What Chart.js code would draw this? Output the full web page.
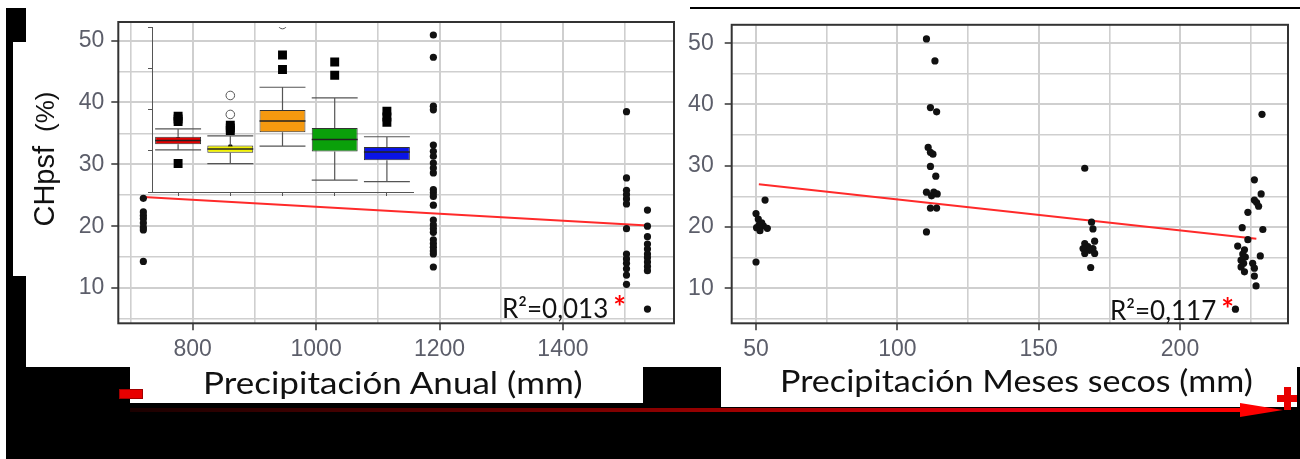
<!DOCTYPE html>
<html>
<head>
<meta charset="utf-8">
<script src="https://cdn.jsdelivr.net/npm/chart.js@4.4.1/dist/chart.umd.min.js"></script>
<style>
body { margin: 0; background: #fff; }
#wrap { position: relative; width: 1300px; height: 459px; overflow: hidden; background: #fff; }
.blk { position: absolute; background: #000; }
.wht { position: absolute; background: #fff; }
canvas { position: absolute; }
.txt { position: absolute; white-space: nowrap; line-height: 1; color: #111; font-family: Lato, sans-serif; transform-origin: left center; }
.star { color: #ff0000; font-weight: bold; font-size: 30px; margin-left: 5px; }
</style>
</head>
<body>
<div id="wrap">
  <!-- black frame pieces -->
  <div class="blk" style="left:6px;top:8px;width:20px;height:34px"></div>
  <div class="blk" style="left:6px;top:42px;width:7px;height:234px"></div>
  <div class="blk" style="left:6px;top:276px;width:20px;height:91px"></div>
  <div class="blk" style="left:6px;top:367px;width:1294px;height:92px"></div>
  <div class="blk" style="left:690px;top:7px;width:610px;height:2px"></div>

  <canvas id="anual" width="660" height="367" style="left:26px;top:0"></canvas>
  <canvas id="secos" width="614" height="366" style="left:686px;top:0"></canvas>
  <canvas id="inset" width="295" height="195" style="left:130px;top:10px"></canvas>

  <!-- axis title boxes -->
  <div class="wht" style="left:130px;top:367px;width:513px;height:36px"></div>
  <div class="wht" style="left:721px;top:366px;width:576px;height:41px"></div>

  <div class="txt" style="left:203px;top:367px;font-size:31px;transform:scaleX(1.13)">Precipitación Anual (mm)</div>
  <div class="txt" style="left:780px;top:365px;font-size:31px;transform:scaleX(1.1)">Precipitación Meses secos (mm)</div>

  <div class="txt" style="left:-31px;top:142px;width:150px;height:34px;line-height:34px;text-align:center;transform:rotate(-90deg);transform-origin:center;font-family:'Liberation Sans',sans-serif;font-size:29px">CHpsf<span style="font-size:26px;margin-left:14px">(%)</span></div>

  <div class="txt" style="left:502px;top:291px;font-size:26px">R²=0,013<span class="star">*</span></div>
  <div class="txt" style="left:1110px;top:293px;font-size:26px">R²=0,117<span class="star">*</span></div>

  <!-- minus / gradient arrow / plus -->
  <div style="position:absolute;left:119px;top:389px;width:22px;height:8px;background:#e80000;border:1px solid #a00000"></div>
  <div style="position:absolute;left:130px;top:408px;width:1112px;height:4px;background:linear-gradient(to right,#1a0000 0%,#5a0000 30%,#a00000 55%,#e00010 80%,#ff0000 100%)"></div>
  <div style="position:absolute;left:1240px;top:403px;width:0;height:0;border-left:43px solid #ff0000;border-top:7px solid transparent;border-bottom:7px solid transparent"></div>
  <div style="position:absolute;left:1277px;top:395px;width:20px;height:7px;background:#e80000"></div>
  <div style="position:absolute;left:1284px;top:387px;width:7px;height:23px;background:#e80000"></div>
</div>

<script>
// CHpsf (%) vs annual precipitation (mm): one column of values per site
var anualSites = [720, 1190, 1503, 1537];
var anual720 = [24.5, 22.3, 21.7, 21.2, 20.5, 19.8, 19.4, 14.3];
var anual1190 = [50.9, 47.3, 39.4, 38.8, 33.1, 32.1, 31.3, 30.2, 29.4, 28.6, 25.9, 25.4, 24.8, 23.4, 21.0, 20.2, 19.6, 19.0, 17.8, 17.2, 16.6, 16.0, 15.5, 13.4];
var anual1503 = [38.5, 27.8, 25.8, 25.1, 24.4, 23.6, 19.6, 15.5, 14.7, 14.0, 13.1, 12.1, 10.6];
var anual1537 = [22.6, 20.0, 18.3, 17.1, 16.3, 15.5, 14.9, 14.2, 13.5, 12.8, 6.6];
var anualTrendX = [720, 1537];
var anualTrendY = [24.7, 20.1];

// CHpsf (%) vs dry months precipitation (mm), jittered x
var secosX = [50, 53.2, 50.8, 52, 52.6, 51.4, 50.2, 54, 51.2, 50,
  110.3, 113.3, 111.7, 113.9, 110.9, 111.7, 112.6, 111.7, 113.6, 110.3, 112.1, 112.9, 114.1, 111.7, 113.9, 110.3,
  166.3, 168.7, 169.2, 166.3, 167.4, 169.8, 165.7, 169.2, 168.0, 166.3, 169.8, 168.4,
  229, 226.3, 228.7, 226.3, 227.1, 227.8, 224, 222, 229.3, 224, 220.4, 222.8, 222.2, 228.4, 223.1, 221.6, 222.5, 225.7, 221.6, 226.3, 222.8, 226.3, 226.9, 219.6];
var secosY = [22.2, 24.4, 21.3, 20.7, 20.2, 19.4, 19.9, 19.8, 20.4, 14.3,
  50.7, 47.1, 39.5, 38.8, 33.0, 32.2, 31.9, 29.9, 28.3, 25.7, 25.1, 25.7, 25.4, 23.1, 23.1, 19.2,
  29.6, 20.8, 19.7, 17.3, 16.8, 17.7, 16.5, 16.5, 16.2, 15.7, 15.7, 13.4,
  38.4, 27.7, 25.4, 24.4, 24.0, 23.4, 22.4, 19.9, 19.6, 17.95, 16.9, 16.3, 15.6, 15.3, 15.1, 14.6, 14.1, 14.1, 13.5, 13.3, 12.7, 12.0, 10.4, 6.6];
var secosTrendX = [51, 227];
var secosTrendY = [27.0, 18.1];

// tick positions (major + minor grid)
var yTicks = [5, 10, 15, 20, 25, 30, 35, 40, 45, 50];
var anualTicks = [700, 800, 900, 1000, 1100, 1200, 1300, 1400, 1500];
var secosTicks = [50, 75, 100, 125, 150, 175, 200, 225];

// inset boxplot (unlabelled scale)
var boxGroups = ['G1', 'G2', 'G3', 'G4', 'G5'];
var boxLo = [10.2, 6.9, 11.1, 2.9, 2.5];
var boxQ1 = [11.6, 9.5, 14.5, 9.8, 7.7];
var boxMed = [12.5, 10.4, 17.2, 12.7, 9.7];
var boxQ3 = [13.4, 11.3, 19.9, 15.5, 10.9];
var boxHi = [15.3, 13.6, 25.4, 22.8, 13.4];
var boxMean = [12.8, 11.0, 18.3, 13.3, 10.1];
var outGroup = ['G1', 'G1', 'G1', 'G1', 'G2', 'G2', 'G2', 'G3', 'G3', 'G4', 'G4', 'G5', 'G5', 'G5'];
var outValue = [18.4, 17.7, 17.1, 6.9, 16.2, 15.5, 14.9, 33.2, 29.7, 31.5, 28.3, 19.6, 18.2, 16.9];
var openGroup = ['G2', 'G2', 'G3'];
var openValue = [23.4, 18.8, 40.6];

var tickFont = { family: 'Liberation Sans', size: 23 };
var tickGrey = '#5c5e6a';

var plotBorder = {
    id: 'plotBorder',
    afterDatasetsDraw: function (chart) {
        var a = chart.chartArea, ctx = chart.ctx;
        ctx.save();
        ctx.strokeStyle = '#333';
        ctx.lineWidth = 2;
        ctx.strokeRect(a.left, a.top, a.right - a.left, a.bottom - a.top);
        ctx.restore();
    }
};

function column(x, values) {
    return values.map(function (v) { return { x: x, y: v }; });
}

function pairs(xs, ys) {
    return xs.map(function (x, i) { return { x: x, y: ys[i] }; });
}

function panel(canvasId, points, trend, xMin, xMax, xTicks, xMajor, yWidth, yPad, pad) {
    new Chart(document.getElementById(canvasId), {
        type: 'scatter',
        data: {
            datasets: [{
                data: points,
                pointRadius: 3.6,
                pointStyle: 'circle',
                backgroundColor: '#111',
                borderWidth: 0
            }, {
                type: 'line',
                data: trend,
                borderColor: '#ff2a2a',
                borderWidth: 2,
                pointRadius: 0,
                fill: false
            }]
        },
        options: {
            responsive: false,
            animation: false,
            layout: { padding: pad },
            plugins: { legend: { display: false }, tooltip: { enabled: false } },
            scales: {
                x: {
                    type: 'linear',
                    min: xMin,
                    max: xMax,
                    border: { display: false },
                    afterBuildTicks: function (axis) { axis.ticks = xTicks.map(function (v) { return { value: v }; }); },
                    afterFit: function (axis) { axis.height = pad.xHeight; },
                    grid: {
                        color: '#cfcfcf',
                        lineWidth: function (c) { return c.tick && c.tick.value % xMajor === 0 ? 2 : 1.6; },
                        tickColor: function (c) { return c.tick && c.tick.value % xMajor === 0 ? '#333' : 'rgba(0,0,0,0)'; },
                        tickLength: 7,
                        tickWidth: 1.5
                    },
                    ticks: {
                        font: tickFont,
                        color: tickGrey,
                        padding: 6,
                        maxRotation: 0,
                        autoSkip: false,
                        callback: function (v) { return v % xMajor === 0 ? String(v) : ''; }
                    }
                },
                y: {
                    min: 4.3,
                    max: 53.0,
                    border: { display: false },
                    afterBuildTicks: function (axis) { axis.ticks = yTicks.map(function (v) { return { value: v }; }); },
                    afterFit: function (axis) { axis.width = yWidth; },
                    grid: {
                        color: '#cfcfcf',
                        lineWidth: function (c) { return c.tick && c.tick.value % 10 === 0 ? 2 : 1.6; },
                        tickColor: function (c) { return c.tick && c.tick.value % 10 === 0 ? '#333' : 'rgba(0,0,0,0)'; },
                        tickLength: 7,
                        tickWidth: 1.5
                    },
                    ticks: {
                        font: tickFont,
                        color: tickGrey,
                        padding: yPad,
                        autoSkip: false,
                        callback: function (v) { return v % 10 === 0 ? String(v) : ''; }
                    }
                }
            }
        },
        plugins: [plotBorder]
    });
}

var anualPoints = column(anualSites[0], anual720)
    .concat(column(anualSites[1], anual1190))
    .concat(column(anualSites[2], anual1503))
    .concat(column(anualSites[3], anual1537));

panel('anual', anualPoints, pairs(anualTrendX, anualTrendY), 679.4, 1580, anualTicks, 200, 92.3, 7,
    { top: 22, right: 12, left: 0, bottom: 0, xHeight: 43.7 });

panel('secos', pairs(secosX, secosY), pairs(secosTrendX, secosTrendY), 41.4, 238.2, secosTicks, 50, 45.7, 11,
    { top: 24, right: 12, left: 0, bottom: 0, xHeight: 42.7 });

// whiskers, caps and medians for the inset boxes
var boxWhiskers = {
    id: 'boxWhiskers',
    afterDatasetDraw: function (chart, args) {
        if (args.index !== 0) return;
        var ctx = chart.ctx, y = chart.scales.y;
        args.meta.data.forEach(function (bar, i) {
            var half = bar.width / 2;
            var yLo = y.getPixelForValue(boxLo[i]), yHi = y.getPixelForValue(boxHi[i]);
            ctx.save();
            ctx.strokeStyle = '#555';
            ctx.lineWidth = 1.2;
            ctx.beginPath();
            ctx.moveTo(bar.x, y.getPixelForValue(boxQ3[i]));
            ctx.lineTo(bar.x, yHi);
            ctx.moveTo(bar.x, y.getPixelForValue(boxQ1[i]));
            ctx.lineTo(bar.x, yLo);
            ctx.moveTo(bar.x - half, yHi);
            ctx.lineTo(bar.x + half, yHi);
            ctx.moveTo(bar.x - half, yLo);
            ctx.lineTo(bar.x + half, yLo);
            ctx.stroke();
            var yMed = y.getPixelForValue(boxMed[i]);
            ctx.strokeStyle = '#222';
            ctx.lineWidth = 1.5;
            ctx.beginPath();
            ctx.moveTo(bar.x - half, yMed);
            ctx.lineTo(bar.x + half, yMed);
            ctx.stroke();
            ctx.restore();
        });
    }
};

new Chart(document.getElementById('inset'), {
    type: 'bar',
    data: {
        labels: boxGroups,
        datasets: [{
            data: boxGroups.map(function (g, i) { return [boxQ1[i], boxQ3[i]]; }),
            backgroundColor: ['#e60000', '#f2f200', '#f5990f', '#0aa00a', '#0a14e6'],
            borderColor: '#333',
            borderWidth: 1,
            borderSkipped: false,
            barPercentage: 0.88,
            categoryPercentage: 1
        }, {
            type: 'scatter',
            data: pairs(outGroup, outValue),
            pointStyle: 'rect',
            pointRadius: 6.3,
            backgroundColor: '#000',
            borderWidth: 0
        }, {
            type: 'scatter',
            data: pairs(openGroup, openValue),
            pointStyle: 'circle',
            pointRadius: 4.3,
            backgroundColor: '#fff',
            borderColor: '#555',
            borderWidth: 1
        }, {
            type: 'scatter',
            data: pairs(boxGroups, boxMean),
            pointStyle: 'circle',
            pointRadius: 2.4,
            backgroundColor: '#000',
            borderWidth: 0
        }]
    },
    options: {
        responsive: false,
        animation: false,
        layout: { padding: { top: 17, right: 12, left: 0, bottom: 0 } },
        plugins: { legend: { display: false }, tooltip: { enabled: false } },
        scales: {
            x: {
                type: 'category',
                offset: true,
                border: { display: true, color: '#555', width: 1 },
                afterFit: function (axis) { axis.height = 13; },
                grid: { drawOnChartArea: false, tickLength: 4, tickColor: '#555', offset: false },
                ticks: { display: false }
            },
            y: {
                min: 0,
                max: 40,
                border: { display: true, color: '#555', width: 1 },
                afterFit: function (axis) { axis.width = 22; },
                grid: { drawOnChartArea: false, tickLength: 4, tickColor: '#555' },
                ticks: { display: false, stepSize: 10 }
            }
        }
    },
    plugins: [boxWhiskers]
});
</script>
</body>
</html>
